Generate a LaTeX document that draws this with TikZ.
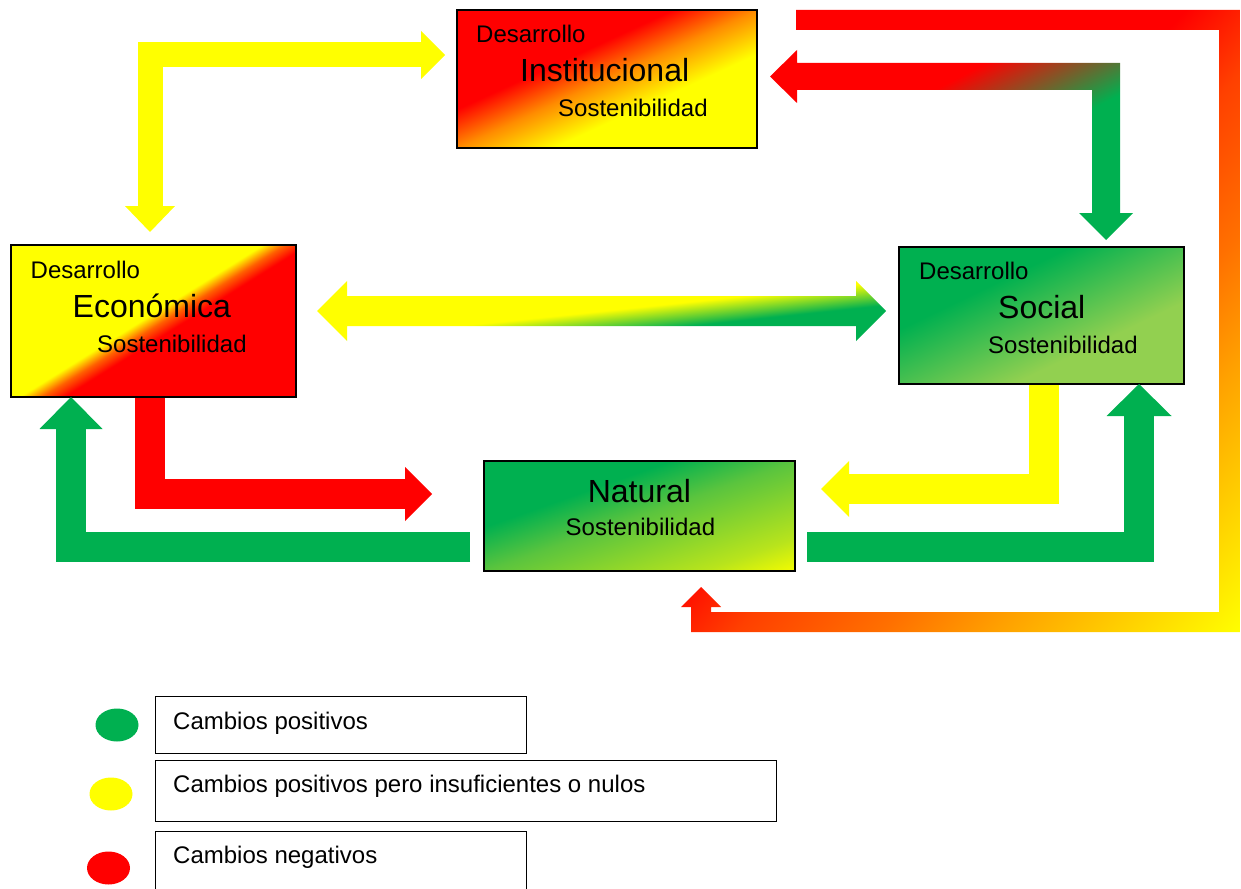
\documentclass[tikz,border=0pt]{standalone}
\usepackage{fontspec}
\setmainfont{Liberation Sans}
\usetikzlibrary{arrows.meta,calc,shapes.geometric}
\definecolor{gGreen}{HTML}{00B050}
\definecolor{lGreen}{HTML}{92D050}
\definecolor{yYel}{HTML}{FFFF00}
\definecolor{rRed}{HTML}{FF0000}
\definecolor{oOra}{HTML}{FF8C00}
\definecolor{o1}{HTML}{FFA000}
\definecolor{o2}{HTML}{FF7000}
\definecolor{o3}{HTML}{FF4000}
\definecolor{o4}{HTML}{FF6000}
\definecolor{nY}{HTML}{F4FC00}
\definecolor{nA}{HTML}{B8E41C}
\definecolor{nB}{HTML}{5AC43E}
\pgfdeclareverticalshading{instshade}{100bp}{color(0bp)=(yYel); color(43.3bp)=(yYel); color(50bp)=(oOra); color(55.9bp)=(rRed); color(100bp)=(rRed)}
\pgfdeclareverticalshading{econshade}{100bp}{color(0bp)=(rRed); color(47bp)=(rRed); color(49.1bp)=(o4); color(51.2bp)=(yYel); color(100bp)=(yYel)}
\pgfdeclareverticalshading{socshade}{100bp}{color(0bp)=(lGreen); color(41.3bp)=(lGreen); color(58.7bp)=(gGreen); color(100bp)=(gGreen)}
\pgfdeclareverticalshading{natshade}{100bp}{color(0bp)=(nY); color(33.3bp)=(nY); color(38.3bp)=(nA); color(50bp)=(nB); color(56.7bp)=(gGreen); color(100bp)=(gGreen)}
\pgfdeclareverticalshading{rgshade}{100bp}{color(0bp)=(gGreen); color(45.4bp)=(gGreen); color(57.9bp)=(rRed); color(100bp)=(rRed)}
\pgfdeclareverticalshading{frameshade}{100bp}{color(0bp)=(yYel); color(16.6bp)=(yYel); color(31.3bp)=(o1); color(38bp)=(o2); color(46.7bp)=(o3); color(53.3bp)=(rRed); color(100bp)=(rRed)}
\pgfdeclareverticalshading{ygshade}{100bp}{color(0bp)=(gGreen); color(47.9bp)=(gGreen); color(50bp)=(yYel); color(100bp)=(yYel)}
\begin{document}
\begin{tikzpicture}[x=1pt,y=-1pt,
  boxn/.style={inner sep=0pt, outer sep=0pt, anchor=north west},
  border/.style={draw=black, line width=2pt},
  small/.style={font=\fontsize{24}{28}\selectfont, anchor=base west, inner sep=0pt},
  big/.style={font=\fontsize{32}{38}\selectfont, anchor=base west, inner sep=0pt},
  legbox/.style={draw=black, line width=1pt, inner sep=0pt, anchor=north west},
  dot/.style={ellipse, inner sep=0pt, minimum width=43pt, minimum height=33pt}
]
\useasboundingbox (0,0) rectangle (1241,888);
\clip (0,0) rectangle (1241,888);

% boxes (shaded; two moveto points make the shading frame square)
\node[boxn, minimum width=300pt, minimum height=138pt] (inst) at (457,10) {};
\node[boxn, minimum width=285pt, minimum height=152pt] (econ) at (11,245) {};
\node[boxn, minimum width=285pt, minimum height=137pt] (soc) at (899,247) {};
\node[boxn, minimum width=311pt, minimum height=110pt] (nat) at (484,461) {};

\shade[shading=instshade, shading angle=24.7]
  ($(inst.center)+(-150,-150)$) ($(inst.center)+(150,150)$) (inst.south west) rectangle (inst.north east);
\shade[shading=econshade, shading angle=32]
  ($(econ.center)+(-142.5,-142.5)$) ($(econ.center)+(142.5,142.5)$) (econ.south west) rectangle (econ.north east);
\shade[shading=socshade, shading angle=25.7]
  ($(soc.center)+(-142.5,-142.5)$) ($(soc.center)+(142.5,142.5)$) (soc.south west) rectangle (soc.north east);
\shade[shading=natshade, shading angle=19.5]
  ($(nat.center)+(-155.5,-155.5)$) ($(nat.center)+(155.5,155.5)$) (nat.south west) rectangle (nat.north east);
\draw[border] (inst.south west) rectangle (inst.north east);
\draw[border] (econ.south west) rectangle (econ.north east);
\draw[border] (soc.south west) rectangle (soc.north east);
\draw[border] (nat.south west) rectangle (nat.north east);

% box texts
\node[small] (instA) at (476,43) {Desarrollo};
\node[big] (instB) at (520,82) {Institucional};
\node[small] (instC) at (558,117) {Sostenibilidad};
\node[small] (econA) at (30.5,278) {Desarrollo};
\node[big] (econB) at (72.5,317) {Económica};
\node[small] (econC) at (97,352) {Sostenibilidad};
\node[small] (socA) at (919,279) {Desarrollo};
\node[big] (socB) at (998,318) {Social};
\node[small] (socC) at (988,353) {Sostenibilidad};
\node[big] (natB) at (587.6,502) {Natural};
\node[small] (natC) at (565.5,535) {Sostenibilidad};

% solid block arrows
\draw[line width=25pt, yYel,
  {Triangle[width=50pt,length=26pt,line width=0pt]}-{Triangle[width=48pt,length=24pt,line width=0pt]},
  shorten <=13pt, shorten >=12pt]
  ($(econ.north west)+(139,0)$) |- ($(inst.north west)+(0,45)$);
\draw[line width=30pt, gGreen, -{Triangle[width=63pt,length=32pt,line width=0pt]}]
  ($(nat.south west)+(-14,-24)$) -| ($(econ.south west)+(60,0)$);
\draw[line width=30pt, rRed, -{Triangle[width=54pt,length=27pt,line width=0pt]}]
  ($(econ.south west)+(139,1)$) |- ($(nat.north west)+(-52,33)$);
\draw[line width=30pt, yYel, -{Triangle[width=56pt,length=28pt,line width=0pt]}]
  ($(soc.south west)+(145,1)$) |- ($(nat.north east)+(26,28)$);
\draw[line width=30pt, gGreen, -{Triangle[width=65pt,length=32pt,line width=0pt]}]
  ($(nat.south east)+(12,-24)$) -| ($(soc.south west)+(240,0)$);

% gradient block arrows (two moveto points make the shading frame square)
\shade[shading=rgshade, shading angle=27.6]
  (770,-36.5) (1133,326.5)
  (770,76.5) -- (797,50) -- (797,63) -- (1120,63) -- (1120,213) -- (1133,213) -- (1106,240)
  -- (1079,213) -- (1092,213) -- (1092,90) -- (797,90) -- (797,103) -- cycle;
\shade[shading=ygshade, shading angle=6]
  (317,26.5) (886,595.5)
  (317,311) -- (347,281) -- (347,296) -- (856,296) -- (856,281) -- (886,311)
  -- (856,341) -- (856,326) -- (347,326) -- (347,341) -- cycle;
\shade[shading=frameshade, shading angle=48]
  (649.5,10) (1271.5,632)
  (796,10) -- (1240,10) -- (1240,632) -- (691,632) -- (691,607) -- (681,607) -- (701,587)
  -- (721,607) -- (711,607) -- (711,612) -- (1219,612) -- (1219,30) -- (796,30) -- cycle;

% legend
\node[dot, fill=gGreen] (dotG) at (117,725) {};
\node[dot, fill=yYel] (dotY) at (111,794) {};
\node[dot, fill=rRed] (dotR) at (108.5,868) {};
\node[legbox, minimum width=371pt, minimum height=57pt] (leg1) at (155,696) {};
\node[legbox, minimum width=621pt, minimum height=61pt] (leg2) at (155,760) {};
\node[legbox, minimum width=371pt, minimum height=75pt] (leg3) at (155,831) {};
\node[small] (leg1t) at (173,729) {Cambios positivos};
\node[small] (leg2t) at (173,792) {Cambios positivos pero insuficientes o nulos};
\node[small] (leg3t) at (173,863) {Cambios negativos};
\end{tikzpicture}
\end{document}
